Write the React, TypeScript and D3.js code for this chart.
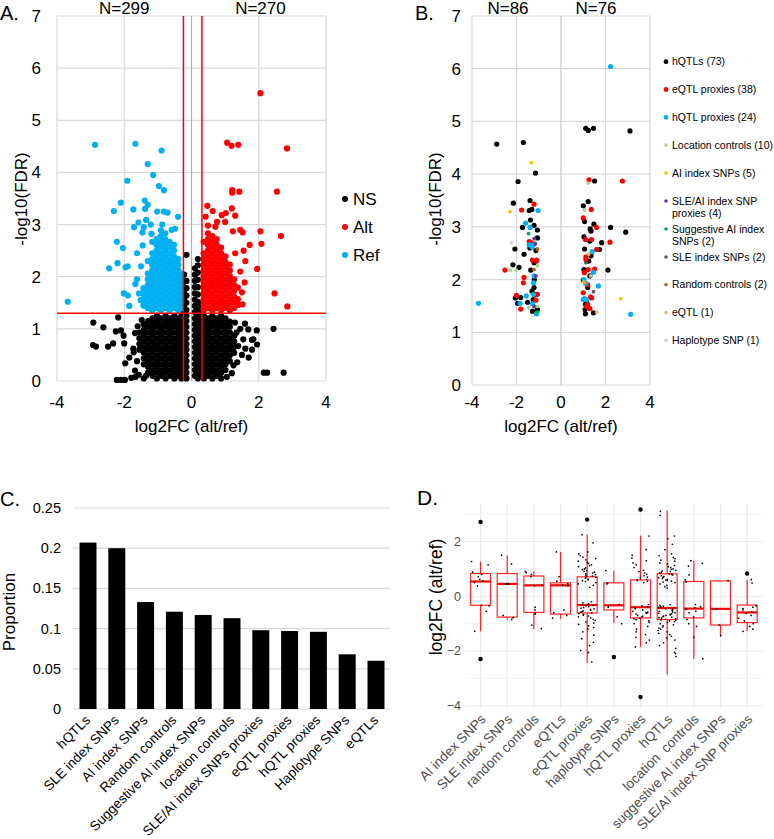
import React from "react";
import * as d3 from "d3";

const FONT = "'Liberation Sans', Arial, Helvetica, sans-serif";

// ---------------- Panel A data ----------------
const aXTicks = [-4, -2, 0, 2, 4];
const aYTicks = [0, 1, 2, 3, 4, 5, 6, 7];
const aCountLabels = ["N=299", "N=270"];
const aFdrLine = 1.3;
const aFcLines = [-0.24, 0.31];
const aLegend = ["NS", "Alt", "Ref"];

const nsColumns: [number, number[]][] = [
  [-1.55, [0.6, 0.71, 0.82, 0.93]],
  [-1.42, [0.32, 0.43, 0.54, 0.65, 0.76, 0.87, 0.98, 1.09]],
  [-1.29, [0.16, 0.27, 0.38, 0.49, 0.6, 0.71, 0.82, 0.93, 1.04, 1.15]],
  [-1.16, [0.1, 0.21, 0.32, 0.43, 0.54, 0.65, 0.76, 0.87, 0.98, 1.09, 1.2]],
  [-1.03, [0.05, 0.16, 0.27, 0.38, 0.49, 0.6, 0.71, 0.82, 0.93, 1.04, 1.15, 1.25]],
  [-0.9, [0.1, 0.21, 0.32, 0.43, 0.54, 0.65, 0.76, 0.87, 0.98, 1.09, 1.2]],
  [-0.77, [0.05, 0.16, 0.27, 0.38, 0.49, 0.6, 0.71, 0.82, 0.93, 1.04, 1.15, 1.25]],
  [-0.64, [0.1, 0.21, 0.32, 0.43, 0.54, 0.65, 0.76, 0.87, 0.98, 1.09, 1.2]],
  [-0.51, [0.05, 0.16, 0.27, 0.38, 0.49, 0.6, 0.71, 0.82, 0.93, 1.04, 1.15, 1.25]],
  [-0.38, [0.1, 0.21, 0.32, 0.43, 0.54, 0.65, 0.76, 0.87, 0.98, 1.09, 1.2]],
  [-0.3, [0.05, 0.16, 0.27, 0.38, 0.49, 0.6, 0.71, 0.82, 0.93, 1.04, 1.15, 1.25]],
  [-0.22, [0.1, 0.21, 0.32, 0.43, 0.54, 0.65, 0.76, 0.87, 0.98, 1.09, 1.2, 1.32, 1.44, 1.56, 1.68, 1.8, 1.92, 2.04]],
  [-0.15, [0.05, 0.16, 0.27, 0.38, 0.49, 0.6, 0.71, 0.82, 0.93, 1.04, 1.15, 1.25, 1.36, 1.5, 1.64, 1.78, 1.92, 2.42]],
  [0.1, [0.1, 0.21, 0.32, 0.43, 0.54, 0.65, 0.76, 0.87, 0.98, 1.09, 1.2, 1.32, 1.44, 1.56, 1.68, 1.8, 1.92, 2.04, 2.16]],
  [0.19, [0.05, 0.16, 0.27, 0.38, 0.49, 0.6, 0.71, 0.82, 0.93, 1.04, 1.15, 1.25, 1.37, 1.52, 1.66, 1.8, 1.94, 2.08, 2.22, 2.34]],
  [0.28, [0.1, 0.21, 0.32, 0.43, 0.54, 0.65, 0.76, 0.87, 0.98, 1.09, 1.2, 1.32, 1.46]],
  [0.37, [0.05, 0.16, 0.27, 0.38, 0.49, 0.6, 0.71, 0.82, 0.93, 1.04, 1.15, 1.25]],
  [0.49, [0.1, 0.21, 0.32, 0.43, 0.54, 0.65, 0.76, 0.87, 0.98, 1.09, 1.2]],
  [0.62, [0.05, 0.16, 0.27, 0.38, 0.49, 0.6, 0.71, 0.82, 0.93, 1.04, 1.15, 1.25]],
  [0.75, [0.1, 0.21, 0.32, 0.43, 0.54, 0.65, 0.76, 0.87, 0.98, 1.09, 1.2]],
  [0.88, [0.05, 0.16, 0.27, 0.38, 0.49, 0.6, 0.71, 0.82, 0.93, 1.04, 1.15, 1.25]],
  [1.01, [0.21, 0.32, 0.43, 0.54, 0.65, 0.76, 0.87, 0.98, 1.09, 1.2]],
  [1.14, [0.38, 0.49, 0.6, 0.71, 0.82, 0.93, 1.04]],
  [1.27, [0.54, 0.65, 0.76, 0.87]],
];
const nsScatter: [number, number][] = [
  [-2.92, 1.12], [-2.62, 1.03], [-2.18, 1.22], [-2.93, 0.69], [-2.84, 0.66], [-2.48, 0.66], [-2.33, 0.72],
  [-2.02, 0.87], [-2.0, 0.72], [-2.1, 0.97], [-1.97, 0.34], [-2.22, 0.02], [-2.1, 0.02], [-1.98, 0.02],
  [-1.66, 0.08], [-1.79, 0.06], [-1.57, 0.12], [-1.42, 0.05], [-1.72, 0.55], [-1.73, 0.62], [-1.68, 0.92],
  [-1.48, 1.17], [-1.6, 1.05], [-1.68, 0.2], [-1.35, 0.1], [-2.25, 0.95], [-1.85, 0.45], [-1.62, 0.38],
  [1.14, 1.14], [1.29, 1.12], [1.59, 1.1], [1.69, 0.99], [1.84, 0.8], [1.94, 0.97], [2.44, 1.0],
  [1.34, 0.93], [1.54, 0.8], [1.39, 0.67], [1.36, 0.36], [1.5, 0.5], [1.6, 0.62], [1.8, 0.6],
  [1.95, 0.7], [1.8, 0.79], [1.2, 0.15], [1.05, 0.08], [2.15, 0.16], [2.25, 0.16], [2.74, 0.16],
  [1.45, 1.0], [1.7, 0.45], [1.25, 0.3],
];
const refColumns: [number, number[]][] = [
  [-1.43, [1.45, 1.56, 1.67, 1.78]],
  [-1.3, [1.4, 1.51, 1.62, 1.73, 1.84, 1.95, 2.06, 2.3]],
  [-1.17, [1.35, 1.46, 1.57, 1.68, 1.79, 1.9, 2.01, 2.12, 2.23, 2.34, 2.45, 2.67]],
  [-1.04, [1.4, 1.51, 1.62, 1.73, 1.84, 1.95, 2.06, 2.17, 2.28, 2.39, 2.5, 2.61, 2.72]],
  [-0.91, [1.35, 1.46, 1.57, 1.68, 1.79, 1.9, 2.01, 2.12, 2.23, 2.34, 2.45, 2.56, 2.67, 2.78, 2.89]],
  [-0.78, [1.4, 1.51, 1.62, 1.73, 1.84, 1.95, 2.06, 2.17, 2.28, 2.39, 2.5, 2.61, 2.72, 2.83]],
  [-0.65, [1.35, 1.46, 1.57, 1.68, 1.79, 1.9, 2.01, 2.12, 2.23, 2.34, 2.45, 2.56, 2.67]],
  [-0.52, [1.4, 1.51, 1.62, 1.73, 1.84, 1.95, 2.06, 2.17, 2.28, 2.39, 2.5, 2.61]],
  [-0.39, [1.35, 1.46, 1.57, 1.68, 1.79, 1.9, 2.01, 2.12, 2.23, 2.34]],
  [-0.31, [1.4, 1.51, 1.62, 1.73, 1.84, 1.95, 2.06]],
];
const refScatter: [number, number][] = [
  [-2.87, 4.53], [-1.67, 4.55], [-0.89, 4.42], [-1.3, 4.16], [-1.14, 3.95], [-1.91, 3.84], [-0.97, 3.74],
  [-0.82, 3.66], [-2.1, 3.42], [-2.31, 3.26], [-1.39, 3.46], [-1.3, 3.38], [-1.38, 3.3], [-1.73, 3.29],
  [-1.02, 3.25], [-0.82, 3.25], [-0.71, 3.23], [-0.4, 3.15], [-1.58, 3.04], [-1.35, 3.09], [-1.71, 2.95],
  [-1.42, 2.95], [-1.21, 3.0], [-0.87, 3.0], [-0.59, 2.9], [-0.49, 2.92], [-1.46, 2.85], [-1.19, 2.82],
  [-2.22, 2.67], [-2.04, 2.55], [-1.62, 2.45], [-2.45, 2.16], [-2.2, 2.26], [-1.96, 2.18], [-1.9, 2.2],
  [-1.62, 1.95], [-1.67, 1.86], [-2.01, 1.68], [-1.89, 1.64], [-1.85, 1.44], [-1.56, 1.68], [-1.51, 1.55],
  [-3.68, 1.52], [-1.45, 2.6], [-1.5, 2.2], [-1.4, 1.45],
];
const altColumns: [number, number[]][] = [
  [0.36, [1.35, 1.46, 1.57, 1.68, 1.79, 1.9, 2.01, 2.12, 2.23, 2.34, 2.45, 2.67]],
  [0.49, [1.4, 1.51, 1.62, 1.73, 1.84, 1.95, 2.06, 2.17, 2.28, 2.39, 2.5, 2.61, 2.72, 2.83]],
  [0.62, [1.35, 1.46, 1.57, 1.68, 1.79, 1.9, 2.01, 2.12, 2.23, 2.34, 2.45, 2.56, 2.67, 2.78]],
  [0.75, [1.4, 1.51, 1.62, 1.73, 1.84, 1.95, 2.06, 2.17, 2.28, 2.39, 2.5, 2.61, 2.72]],
  [0.88, [1.35, 1.46, 1.57, 1.68, 1.79, 1.9, 2.01, 2.12, 2.23, 2.34, 2.45, 2.56]],
  [1.01, [1.4, 1.51, 1.62, 1.73, 1.84, 1.95, 2.06, 2.17, 2.28, 2.39]],
  [1.14, [1.35, 1.46, 1.57, 1.68, 1.79, 1.9, 2.01, 2.12, 2.23]],
  [1.27, [1.4, 1.51, 1.62, 1.73, 1.84, 1.95]],
  [1.38, [1.57, 1.79]],
];
const altScatter: [number, number][] = [
  [2.05, 5.52], [1.06, 4.57], [1.19, 4.51], [1.39, 4.53], [2.84, 4.46], [1.21, 3.66], [1.21, 3.61],
  [1.42, 3.63], [2.54, 3.63], [0.47, 3.36], [0.63, 3.26], [1.2, 3.31], [1.02, 3.22], [0.9, 3.18],
  [1.3, 3.17], [0.42, 3.15], [0.49, 2.98], [0.76, 3.05], [0.71, 2.96], [1.0, 3.05], [1.23, 2.87],
  [1.45, 2.9], [1.52, 2.85], [2.05, 2.87], [2.66, 2.78], [2.08, 2.63], [1.73, 2.61], [1.55, 2.5],
  [1.3, 2.45], [1.95, 2.15], [1.58, 1.89], [2.47, 1.68], [2.85, 1.43], [1.4, 1.46], [1.52, 1.47],
  [1.45, 2.1], [1.5, 1.7], [1.6, 2.3],
];

// ---------------- Panel B data ----------------
const bCountLabels = ["N=86", "N=76"];
const bHqtls: [number, number][] = [
  [-2.89, 4.57], [-1.69, 4.6], [-1.15, 4.02], [-1.93, 3.86], [-2.14, 3.45], [-1.39, 3.5], [-1.43, 3.31],
  [-1.31, 3.33], [-1.37, 3.13], [-1.73, 2.99], [-1.21, 3.03], [-1.06, 2.94], [-1.06, 2.79], [-2.07, 2.58],
  [-1.66, 2.48], [-1.21, 2.32], [-2.16, 2.28], [-1.89, 2.23], [-1.36, 2.18], [-1.21, 1.85], [-1.3, 1.78],
  [-1.81, 1.66], [-1.5, 1.57], [-1.06, 1.43], [-1.25, 1.62], [-1.15, 1.72], [-1.4, 2.6], [-1.13, 2.55],
  [-1.2, 2.0], [-1.28, 1.4], [-2.05, 1.65], [-1.95, 1.55],
  [1.11, 4.87], [1.23, 4.83], [1.46, 4.87], [3.1, 4.82], [1.51, 3.87], [1.22, 3.48], [1.0, 3.4],
  [1.06, 3.1], [1.48, 3.05], [1.31, 2.96], [1.35, 2.92], [2.23, 2.99], [2.91, 2.9], [1.03, 2.81],
  [1.3, 2.73], [1.83, 2.7], [1.06, 2.58], [1.73, 2.57], [1.03, 2.19], [1.3, 2.07], [2.11, 2.18],
  [1.0, 1.99], [1.1, 1.53], [1.08, 1.43], [1.46, 1.37], [1.1, 1.35], [1.2, 1.85], [1.25, 2.35],
  [1.15, 1.6], [1.35, 2.45],
];
const bEqtlProxies: [number, number][] = [
  [-1.21, 3.43], [-1.77, 3.32], [-1.43, 2.72], [-1.28, 2.37], [-1.09, 2.37], [-2.52, 2.18], [-1.66, 2.04],
  [-1.69, 1.94], [-1.06, 1.72], [-2.0, 1.7], [-1.13, 1.61], [-1.81, 1.44], [-1.1, 2.35], [-1.3, 2.7],
  [1.26, 3.89], [2.76, 3.87], [1.36, 3.33], [1.0, 3.17], [1.6, 2.99], [1.1, 2.76], [1.37, 2.76],
  [2.2, 2.71], [1.6, 2.57], [1.12, 2.43], [1.12, 2.38], [1.22, 2.19], [1.51, 2.2], [1.05, 2.13],
  [1.0, 1.75], [1.33, 1.67], [1.38, 1.65], [1.2, 1.53], [1.15, 1.49], [1.3, 1.45], [1.2, 1.9],
];
const bHqtlProxies: [number, number][] = [
  [-1.03, 3.31], [-1.59, 3.07], [-1.39, 2.99], [-1.24, 2.66], [-1.43, 2.66], [-1.21, 2.07], [-1.24, 1.94],
  [-1.24, 1.72], [-1.56, 1.69], [-1.84, 1.55], [-1.28, 1.54], [-1.1, 1.35], [-3.71, 1.55], [-1.3, 2.62],
  [2.23, 6.04], [1.4, 2.53], [1.46, 2.14], [1.03, 2.0], [1.1, 1.93], [1.68, 1.88], [1.05, 1.64],
  [1.0, 1.62], [1.15, 1.62], [3.13, 1.34],
];
const bLocationControls: [number, number][] = [
  [-1.2, 2.75], [-1.06, 2.26], [-2.27, 2.18], [-2.01, 2.18], [-1.06, 1.49], [-1.45, 1.47],
  [1.22, 3.83], [1.06, 3.32], [1.33, 2.07],
];
const bAiIndex: [number, number][] = [[-1.33, 4.22], [-2.29, 3.29], [1.24, 2.48], [1.03, 1.95], [2.68, 1.64]];
const bSleAiProxies: [number, number][] = [[-1.2, 2.78], [-1.15, 2.68], [-1.13, 2.07], [-1.21, 1.49]];
const bSuggestiveAi: [number, number][] = [[-1.46, 2.87], [-1.06, 1.38]];
const bSleIndex: [number, number][] = [[1.12, 2.32], [1.46, 1.77]];
const bRandomControls: [number, number][] = [[-1.06, 2.58], [-1.21, 2.19]];
const bEqtl: [number, number][] = [[1.61, 1.38]];
const bHaplotype: [number, number][] = [[-2.22, 2.7]];
const bLegendLabels = [
  ["hQTLs (73)"], ["eQTL proxies (38)"], ["hQTL proxies (24)"], ["Location controls (10)"],
  ["AI index SNPs (5)"], ["SLE/AI index SNP", "proxies (4)"], ["Suggestive AI index", "SNPs (2)"],
  ["SLE index SNPs (2)"], ["Random controls (2)"], ["eQTL (1)"], ["Haplotype SNP (1)"],
];

// ---------------- Panel C data ----------------
const cCategories = [
  "hQTLs", "SLE index SNPs", "AI index SNPs", "Random controls", "Suggestive AI index SNPs",
  "location controls", "SLE/AI index SNPs proxies", "eQTL proxies", "hQTL proxies", "Haplotype SNPs", "eQTLs",
];
const cValues = [0.207, 0.2, 0.133, 0.121, 0.117, 0.113, 0.098, 0.097, 0.096, 0.068, 0.06];
const cTicks = [0, 0.05, 0.1, 0.15, 0.2, 0.25];
const cTickLabels = ["0", "0.05", "0.1", "0.15", "0.2", "0.25"];

// ---------------- Panel D data ----------------
const dCategories = [
  "AI index SNPs", "SLE index SNPs", "random controls", "eQTLs", "eQTL proxies", "haplotype SNPs",
  "hQTL proxies", "hQTLs", "location  controls", "suggestive AI index SNPs", "SLE/AI index SNP proxies",
];
const dQ1 = [-0.33, -0.76, -0.59, -0.65, -0.61, -0.5, -0.79, -0.85, -0.79, -1.05, -0.96];
const dMedian = [0.54, 0.45, 0.4, 0.4, -0.32, -0.33, -0.4, -0.43, -0.45, -0.46, -0.59];
const dQ3 = [0.83, 0.83, 0.74, 0.49, 0.71, 0.49, 0.6, 0.82, 0.54, 0.56, -0.32];
const dWhiskerLow = [-1.28, -0.85, -1.2, -0.83, -2.44, -0.98, -1.85, -2.87, -2.29, -1.44, -1.28];
const dWhiskerHigh = [1.27, 1.5, 0.91, 1.62, 2.26, 0.94, 2.22, 3.13, 1.3, 0.56, 0.61];
const dOutliers: [number, number][] = [[0, 2.71], [0, -2.29], [4, 2.8], [5, -2.22], [6, 3.17], [6, -3.68], [10, 0.83]];
const dYTicks = [-4, -2, 0, 2];
const dYMinor = [-3, -1, 1, 3];
const dPoints: number[][] = [
  [1.27, 1.15, 0.88, 0.8, 0.72, 0.62, 0.55, 0.5, 0.38, -0.33, -0.35, -0.55, -1.28],
  [1.5, 1.18, 0.46, 0.45, -0.7, -0.78, -0.85],
  [0.9, 0.86, 0.8, 0.72, 0.4, 0.38, -0.4, -0.5, -0.62, -0.65, -1.05, -1.18],
  [1.62, 0.72, 0.55, 0.45, 0.41, 0.38, -0.5, -0.6, -0.7, -0.8],
  [2.25, 1.95, 1.62, 1.55, 1.48, 1.43, 1.38, 1.33, 1.28, 1.24, 1.2, 1.15, 1.12, 1.08, 1.04, 1.0, 0.97, 0.94,
    0.91, 0.88, 0.85, 0.82, 0.79, 0.77, 0.74, 0.71, 0.69, 0.66, 0.63, 0.6, 0.57, 0.54, 0.5, 0.45, 0.4, 0.33,
    -0.2, -0.24, -0.28, -0.3, -0.33, -0.35, -0.38, -0.41, -0.43, -0.46, -0.48, -0.51, -0.53, -0.56, -0.58,
    -0.61, -0.63, -0.66, -0.69, -0.72, -0.75, -0.79, -0.84, -0.88, -0.93, -0.98, -1.03, -1.08, -1.14, -1.2,
    -1.3, -1.42, -1.55, -1.68, -1.8, -1.98, -2.05, -2.4],
  [0.94, 0.48, 0.45, -0.3, -0.35, -0.4, -0.75, -1.0],
  [2.2, 1.7, 1.5, 1.4, 1.3, 1.22, 1.15, 1.05, 0.95, 0.9, 0.85, 0.8, 0.75, 0.7, 0.68, 0.62, 0.58, 0.55, 0.5,
    -0.3, -0.35, -0.4, -0.42, -0.45, -0.5, -0.55, -0.58, -0.6, -0.62, -0.65, -0.7, -0.72, -0.75, -0.8,
    -0.82, -0.85, -0.9, -0.95, -1.0, -1.1, -1.2, -1.3, -1.4, -1.5, -1.6, -1.7, -1.85],
  [3.1, 2.95, 2.2, 2.1, 1.9, 1.7, 1.55, 1.48, 1.42, 1.38, 1.32, 1.28, 1.22, 1.18, 1.12, 1.08, 1.05, 1.0,
    0.98, 0.95, 0.92, 0.9, 0.87, 0.85, 0.82, 0.8, 0.78, 0.75, 0.72, 0.7, 0.68, 0.65, 0.62, 0.6, 0.58, 0.55,
    0.52, 0.5, 0.45, 0.4, 0.35, 0.3, -0.3, -0.33, -0.36, -0.38, -0.4, -0.42, -0.44, -0.46, -0.48, -0.5,
    -0.52, -0.55, -0.57, -0.6, -0.62, -0.64, -0.66, -0.68, -0.7, -0.72, -0.74, -0.76, -0.78, -0.8, -0.82,
    -0.84, -0.86, -0.88, -0.9, -0.93, -0.96, -1.0, -1.04, -1.08, -1.12, -1.16, -1.2, -1.25, -1.3, -1.35,
    -1.4, -1.46, -1.52, -1.6, -1.7, -1.8, -1.9, -2.05, -2.1, -2.2],
  [1.3, 1.2, 1.1, 0.78, 0.6, 0.52, -0.3, -0.38, -0.42, -0.48, -0.55, -0.6, -0.75, -0.85, -1.0, -1.1, -1.5, -2.28],
  [0.57, -0.46, -1.05, -1.44],
  [0.61, 0.48, -0.35, -0.4, -0.45, -0.5, -0.58, -0.62, -0.7, -0.8, -0.9, -1.0, -1.1, -1.2, -1.28],
];

// ---------------- styles ----------------
const GRID = "#d9d9d9";
const RED = "#ff0000";
const BLUE = "#00b0f0";
const aLegendColors = ["#000000", RED, BLUE];
const bColors = ["#000000", RED, BLUE, "#a9d18e", "#ffc000", "#7030a0", "#00b050", "#595959", "#c55a11", "#f4b183", "#d0d0d0"];
const bRadii = [2.6, 2.6, 2.6, 1.9, 1.9, 1.9, 1.9, 1.9, 1.9, 1.9, 1.9];

const expand = (cols: [number, number[]][]) => cols.flatMap(([x, ys]) => ys.map((y) => [x, y] as [number, number]));
// deterministic horizontal jitter for the strip points (position only)
const jitterOf = (ci: number, k: number) => {
  const s = Math.sin(k * 12.9898 + ci * 78.233) * 43758.5453;
  return s - Math.floor(s) - 0.5;
};

export default function App() {
  const xA = d3.scaleLinear().domain([-4, 4]).range([57, 326]);
  const yA = d3.scaleLinear().domain([0, 7]).range([381, 16]);
  const xB = d3.scaleLinear().domain([-4, 4]).range([472, 650]);
  const yB = d3.scaleLinear().domain([0, 7]).range([385, 16]);
  const xC = d3.scaleBand<string>().domain(cCategories).range([73.6, 390.4]).paddingInner(0.41).paddingOuter(0.205);
  const yC = d3.scaleLinear().domain([0, 0.25]).range([709, 508]);
  const xD = d3.scaleBand<string>().domain(dCategories).range([467.2, 760.5]);
  const yD = d3.scaleLinear().domain([-4, 2]).range([705.8, 541.5]);
  const dCenter = (i: number) => (xD(dCategories[i]) as number) + xD.bandwidth() / 2;
  const boxHalf = 10;

  const nsPts = [...expand(nsColumns), ...nsScatter];
  const refPts = [...expand(refColumns), ...refScatter];
  const altPts = [...expand(altColumns), ...altScatter];
  const bSeries = [bHqtls, bEqtlProxies, bHqtlProxies, bLocationControls, bAiIndex, bSleAiProxies, bSuggestiveAi, bSleIndex, bRandomControls, bEqtl, bHaplotype];

  const txt = { fontFamily: FONT, fill: "#000" } as const;
  const legendBY = [61.7, 89.5, 117.3, 145.1, 173, 201, 229, 257, 284.7, 312.5, 340.3];

  return (
    <svg width={774} height={839} style={{ position: "absolute", left: 0, top: 0, background: "#fff" }} fontFamily={FONT}>
      <rect width={774} height={839} fill="#fff" />
      {/* ================= Panel A ================= */}
      <g>
        {aYTicks.map((t) => (
          <line key={"ag" + t} x1={xA(-4)} x2={xA(4)} y1={yA(t)} y2={yA(t)} stroke={GRID} strokeWidth={1.2} />
        ))}
        {aXTicks.map((t) => (
          <line key={"agx" + t} x1={xA(t)} x2={xA(t)} y1={yA(0)} y2={yA(7)} stroke={t === 0 ? "#b0b0b0" : GRID} strokeWidth={1.2} />
        ))}
        {nsPts.map(([x, y], i) => (
          <circle key={"ns" + i} cx={xA(x)} cy={yA(y)} r={3.1} fill="#000" />
        ))}
        {refPts.map(([x, y], i) => (
          <circle key={"rf" + i} cx={xA(x)} cy={yA(y)} r={3.1} fill={BLUE} />
        ))}
        {altPts.map(([x, y], i) => (
          <circle key={"al" + i} cx={xA(x)} cy={yA(y)} r={3.1} fill={RED} />
        ))}
        <line x1={xA(-4)} x2={xA(4)} y1={yA(aFdrLine)} y2={yA(aFdrLine)} stroke={RED} strokeWidth={1.5} />
        {aFcLines.map((v) => (
          <line key={"fc" + v} x1={xA(v)} x2={xA(v)} y1={yA(0)} y2={yA(7)} stroke={RED} strokeWidth={1.5} />
        ))}
        {aYTicks.map((t) => (
          <text key={"ayl" + t} x={41} y={yA(t)} dy="0.35em" textAnchor="end" fontSize={17} {...txt}>{t}</text>
        ))}
        {aXTicks.map((t) => (
          <text key={"axl" + t} x={xA(t)} y={408} textAnchor="middle" fontSize={17} {...txt}>{t}</text>
        ))}
        <text x={xA(-2)} y={14} textAnchor="middle" fontSize={17} {...txt}>{aCountLabels[0]}</text>
        <text x={xA(2.05)} y={14} textAnchor="middle" fontSize={17} {...txt}>{aCountLabels[1]}</text>
        <text x={191.5} y={432} textAnchor="middle" fontSize={17} {...txt}>log2FC (alt/ref)</text>
        <text transform="translate(21.5,199) rotate(-90)" dy="0.35em" textAnchor="middle" fontSize={17} {...txt}>-log10(FDR)</text>
        <text x={0} y={20} fontSize={20} {...txt}>A.</text>
        {aLegend.map((l, i) => (
          <g key={"aleg" + l}>
            <circle cx={345} cy={199 + i * 28} r={3} fill={aLegendColors[i]} />
            <text x={353} y={199 + i * 28} dy="0.35em" fontSize={17} {...txt}>{l}</text>
          </g>
        ))}
      </g>

      {/* ================= Panel B ================= */}
      <g>
        {aYTicks.map((t) => (
          <line key={"bg" + t} x1={xB(-4)} x2={xB(4)} y1={yB(t)} y2={yB(t)} stroke={GRID} strokeWidth={1.2} />
        ))}
        {aXTicks.map((t) => (
          <line key={"bgx" + t} x1={xB(t)} x2={xB(t)} y1={yB(0)} y2={yB(7)} stroke={t === 0 ? "#c8c8c8" : GRID} strokeWidth={1.2} />
        ))}
        {bSeries.map((s, si) =>
          s.map(([x, y], i) => (
            <circle key={"b" + si + "_" + i} cx={xB(x)} cy={yB(y)} r={bRadii[si]} fill={bColors[si]} />
          ))
        )}
        {aYTicks.map((t) => (
          <text key={"byl" + t} x={461} y={yB(t)} dy="0.35em" textAnchor="end" fontSize={17} {...txt}>{t}</text>
        ))}
        {aXTicks.map((t) => (
          <text key={"bxl" + t} x={xB(t)} y={408} textAnchor="middle" fontSize={17} {...txt}>{t}</text>
        ))}
        <text x={508} y={14} textAnchor="middle" fontSize={17} {...txt}>{bCountLabels[0]}</text>
        <text x={596} y={14} textAnchor="middle" fontSize={17} {...txt}>{bCountLabels[1]}</text>
        <text x={561} y={432} textAnchor="middle" fontSize={17} {...txt}>log2FC (alt/ref)</text>
        <text transform="translate(435.5,199) rotate(-90)" dy="0.35em" textAnchor="middle" fontSize={17} {...txt}>-log10(FDR)</text>
        <text x={415} y={20} fontSize={20} {...txt}>B.</text>
        {bLegendLabels.map((lines, i) => (
          <g key={"bleg" + i}>
            <circle cx={666} cy={legendBY[i]} r={i < 3 ? 2.4 : 1.8} fill={bColors[i]} />
            <text x={672} y={legendBY[i]} fontSize={10.5} {...txt}>
              {lines.map((ln, j) => (
                <tspan key={j} x={672} dy={j === 0 ? "0.35em" : 12.3}>{ln}</tspan>
              ))}
            </text>
          </g>
        ))}
      </g>

      {/* ================= Panel C ================= */}
      <g>
        {cTicks.map((t) => (
          <line key={"cg" + t} x1={73} x2={390} y1={yC(t)} y2={yC(t)} stroke={GRID} strokeWidth={1.2} />
        ))}
        {cCategories.map((c, i) => (
          <rect key={"cb" + c} x={xC(c)} y={yC(cValues[i])} width={xC.bandwidth()} height={yC(0) - yC(cValues[i])} fill="#000" />
        ))}
        {cTicks.map((t, i) => (
          <text key={"cyl" + t} x={61} y={yC(t)} dy="0.35em" textAnchor="end" fontSize={14.5} {...txt}>{cTickLabels[i]}</text>
        ))}
        {cCategories.map((c) => (
          <text key={"cxl" + c} transform={`translate(${(xC(c) as number) + xC.bandwidth() / 2 + 3},721) rotate(-45)`} textAnchor="end" fontSize={13.5} {...txt}>{c}</text>
        ))}
        <text transform="translate(9,612) rotate(-90)" dy="0.35em" textAnchor="middle" fontSize={17} {...txt}>Proportion</text>
        <text x={0} y={506} fontSize={20} {...txt}>C.</text>
      </g>

      {/* ================= Panel D ================= */}
      <g>
        {dYMinor.map((t) => (
          <line key={"dm" + t} x1={465} x2={763} y1={yD(t)} y2={yD(t)} stroke="#f3f3f3" strokeWidth={0.8} />
        ))}
        {dYTicks.map((t) => (
          <line key={"dg" + t} x1={465} x2={763} y1={yD(t)} y2={yD(t)} stroke="#ebebeb" strokeWidth={1.1} />
        ))}
        {dCategories.map((c, i) => (
          <line key={"dgx" + i} x1={dCenter(i)} x2={dCenter(i)} y1={503} y2={708} stroke="#ebebeb" strokeWidth={1.1} />
        ))}
        {dCategories.map((c, i) => (
          <g key={"box" + i} stroke={RED} fill="none" strokeOpacity={0.85}>
            <line x1={dCenter(i)} x2={dCenter(i)} y1={yD(dQ3[i])} y2={yD(dWhiskerHigh[i])} strokeWidth={1.2} />
            <line x1={dCenter(i)} x2={dCenter(i)} y1={yD(dQ1[i])} y2={yD(dWhiskerLow[i])} strokeWidth={1.2} />
            <rect x={dCenter(i) - boxHalf} y={yD(dQ3[i])} width={boxHalf * 2} height={yD(dQ1[i]) - yD(dQ3[i])} strokeWidth={1.2} />
            <line x1={dCenter(i) - boxHalf} x2={dCenter(i) + boxHalf} y1={yD(dMedian[i])} y2={yD(dMedian[i])} strokeWidth={2.2} strokeOpacity={1} />
          </g>
        ))}
        {dOutliers.map(([ci, v], k) => (
          <circle key={"do" + k} cx={dCenter(ci)} cy={yD(v)} r={2.2} fill="#000" />
        ))}
        {dPoints.map((vals, ci) =>
          vals.map((v, k) => (
            <circle key={"dp" + ci + "_" + k} cx={dCenter(ci) + jitterOf(ci, k) * 18} cy={yD(v)} r={0.85} fill="#000" />
          ))
        )}
        {dYTicks.map((t) => (
          <text key={"dyl" + t} x={461} y={yD(t)} dy="0.35em" textAnchor="end" fontSize={12.5} fontFamily={FONT} fill="#4d4d4d">{t < 0 ? "\u2212" + Math.abs(t) : String(t)}</text>
        ))}
        {dCategories.map((c, i) => (
          <text key={"dxl" + i} transform={`translate(${dCenter(i) + 6},720) rotate(-45)`} textAnchor="end" fontSize={13.5} fontFamily={FONT} fill="#4d4d4d" style={{ whiteSpace: "pre" }}>{c}</text>
        ))}
        <text transform="translate(435.5,597) rotate(-90)" dy="0.35em" textAnchor="middle" fontSize={17.5} {...txt}>log2FC (alt/ref)</text>
        <text x={417} y={505} fontSize={21} {...txt}>D.</text>
      </g>
    </svg>
  );
}
